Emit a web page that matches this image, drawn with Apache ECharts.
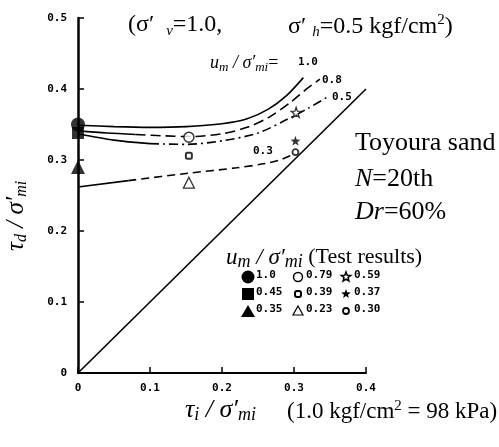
<!DOCTYPE html>
<html><head><meta charset="utf-8">
<script src="https://cdn.jsdelivr.net/npm/echarts@6/dist/echarts.min.js"></script>
<style>html,body{margin:0;padding:0;background:#fff}#c{width:499px;height:447px}</style>
</head><body><div id="c"></div>
<script>
// ---- data ----
const xRange = [0, 0.4];
const yRange = [0, 0.5];
const failureLine = [[0, 0], [0.4, 0.4]];
const curve10 = [[0,0.349],[0.05,0.347],[0.1,0.346],[0.15,0.347],[0.2,0.351],[0.235,0.358],[0.265,0.372],[0.29,0.391],[0.313,0.416]];
const curve08Solid = [[0,0.341],[0.04,0.338],[0.08,0.336]];
const curve08Dash = [[0.08,0.336],[0.12,0.334],[0.155,0.333],[0.2,0.337],[0.235,0.346],[0.265,0.36],[0.295,0.381],[0.315,0.398],[0.336,0.414]];
const curve05Solid = [[0,0.337],[0.05,0.328],[0.1,0.323]];
const curve05Dash = [[0.1,0.323],[0.15,0.322],[0.2,0.327],[0.25,0.338],[0.29,0.357],[0.32,0.373],[0.347,0.389]];
const curve03Solid = [[0,0.262],[0.07,0.271]];
const curve03Dash = [[0.07,0.271],[0.15,0.281],[0.22,0.289],[0.26,0.295],[0.28,0.3],[0.302,0.309]];
const curveLabels = ['1.0','0.8','0.5','0.3'];
const ptFilledCircle = [[0, 0.350]];   // 1.0
const ptFilledSquare = [[0, 0.338]];   // 0.45
const ptFilledTri    = [[0, 0.290]];   // 0.35
const ptOpenCircle   = [[0.154, 0.332]]; // 0.79
const ptSmallSquare  = [[0.154, 0.306]]; // 0.39
const ptOpenTri      = [[0.154, 0.268]]; // 0.23
const ptOpenStar     = [[0.303, 0.367]]; // 0.59
const ptFilledStar   = [[0.302, 0.327]]; // 0.37
const ptSmallCircle  = [[0.302, 0.311]]; // 0.30
const legendValues = [['1.0','0.79','0.59'],['0.45','0.39','0.37'],['0.35','0.23','0.30']];

// ---- chart ----
const serif = 'Liberation Serif';
const mono = 'DejaVu Sans Mono';
const starPath = 'path://M0,-10L2.35,-3.24L9.51,-3.09L3.8,1.24L5.88,8.09L0,4L-5.88,8.09L-3.8,1.24L-9.51,-3.09L-2.35,-3.24Z';
function line(data, type, width) {
  return {type:'line', data, symbol:'none', smooth:0.3, silent:true,
    lineStyle:{color:'#000', width: width||1.6, type: type||'solid'}, z:2};
}
function pts(data, symbol, size, filled, bw) {
  return {type:'scatter', data, symbol, symbolSize:size, silent:true, z:5,
    itemStyle: filled ? {color:'#000'} : {color:'#fff', borderColor:'#000', borderWidth: bw||1.5}};
}
function mkRich(itSize, subSize, nSize, shift) {
  return {
    it:{fontFamily:serif, fontStyle:'italic', fontSize:itSize},
    sub:{fontFamily:serif, fontStyle:'italic', fontSize:subSize, padding:[shift,0,0,0]},
    sup:{fontFamily:serif, fontSize:subSize, padding:[0,0,shift,0]},
    n:{fontFamily:serif, fontSize:nSize}
  };
}
function starPts(cx, cy, r) {
  const p = [];
  for (let i = 0; i < 10; i++) {
    const a = -Math.PI/2 + i*Math.PI/5;
    const rr = i%2 ? r*0.42 : r;
    p.push([cx + rr*Math.cos(a), cy + rr*Math.sin(a)]);
  }
  return p;
}
const lgX = [248, 298, 346];
const lgY = [277, 294, 311];
const graphics = [];
// title (two parts)
const tRich = mkRich(24, 15, 24, 12);
graphics.push({type:'text', left:128, top:13, style:{
  text:'{n|(σ′  }{sub|v}{n|=1.0,}', rich:tRich, fill:'#000'}});
graphics.push({type:'text', left:288, top:13, style:{
  text:'{n|σ′ }{sub|h}{n|=0.5 kgf/cm}{sup|2}{n|)}', rich:tRich, fill:'#000'}});
// u_m / sigma'_mi =
graphics.push({type:'text', left:210, top:54, style:{
  text:'{it|u}{sub|m}{it| / σ′}{sub|mi}{n|=}', rich:mkRich(18, 13, 18, 10), fill:'#000'}});
// curve labels
const clPos = [[298,57],[322,75],[332,92],[253,146]];
curveLabels.forEach((t,i)=>graphics.push({type:'text', left:clPos[i][0], top:clPos[i][1],
  style:{text:t, fontFamily:mono, fontWeight:'bold', fontSize:11, fill:'#000'}}));
// right text
const rRich = mkRich(26, 16, 26, 10);
graphics.push({type:'text', left:355, top:130, style:{text:'{n|Toyoura sand}', rich:rRich, fill:'#000'}});
graphics.push({type:'text', left:355, top:166, style:{text:'{it|N}{n|=20th}', rich:rRich, fill:'#000'}});
graphics.push({type:'text', left:355, top:199, style:{text:'{it|Dr}{n|=60%}', rich:rRich, fill:'#000'}});
// legend header
graphics.push({type:'text', left:226, top:246, style:{
  text:'{it|u}{sub|m}{it| / σ′}{sub|mi}{n| (Test results)}',
  rich:mkRich(23, 18, 22, 10), fill:'#000'}});
// legend symbols
graphics.push({type:'circle', shape:{cx:lgX[0], cy:lgY[0], r:6.5}, style:{fill:'#000'}});
graphics.push({type:'rect', shape:{x:lgX[0]-6, y:lgY[1]-6, width:12, height:12}, style:{fill:'#000'}});
graphics.push({type:'polygon', shape:{points:[[lgX[0],lgY[2]-6],[lgX[0]+7,lgY[2]+6],[lgX[0]-7,lgY[2]+6]]}, style:{fill:'#000'}});
graphics.push({type:'circle', shape:{cx:lgX[1], cy:lgY[0], r:4.5}, style:{fill:'#fff', stroke:'#000', lineWidth:1.5}});
graphics.push({type:'rect', shape:{x:lgX[1]-3, y:lgY[1]-3, width:6, height:6, r:2}, style:{fill:'#fff', stroke:'#000', lineWidth:2}});
graphics.push({type:'polygon', shape:{points:[[lgX[1],lgY[2]-5],[lgX[1]+5,lgY[2]+4],[lgX[1]-5,lgY[2]+4]]}, style:{fill:'#fff', stroke:'#000', lineWidth:1.2}});
graphics.push({type:'polygon', shape:{points:starPts(lgX[2], lgY[0], 5)}, style:{fill:'#fff', stroke:'#000', lineWidth:1.5}});
graphics.push({type:'polygon', shape:{points:starPts(lgX[2], lgY[1], 5)}, style:{fill:'#000'}});
graphics.push({type:'circle', shape:{cx:lgX[2], cy:lgY[2], r:3}, style:{fill:'#fff', stroke:'#000', lineWidth:1.8}});
legendValues.forEach((row,r)=>row.forEach((v,c)=>graphics.push({type:'text', left:lgX[c]+8, top:lgY[r]-7,
  style:{text:v, fontFamily:mono, fontWeight:'bold', fontSize:11, fill:'#000'}})));
// axis titles
graphics.push({type:'text', left:185, top:397, style:{
  text:'{it|τ}{sub|i}{it| / σ′}{sub|mi}', rich:mkRich(26, 18, 23, 11), fill:'#000'}});
graphics.push({type:'text', left:287, top:399, style:{
  text:'{n|(1.0 kgf/cm}{sup|2}{n| = 98 kPa)}', rich:mkRich(24, 15, 23, 11), fill:'#000'}});
graphics.push({type:'text', x:3, y:251, rotation:Math.PI/2, style:{
  text:'{it|τ}{sub|d}{it| / σ′}{sub|mi}', rich:mkRich(25, 16, 25, 11), fill:'#000'}});

const axisLabel = {fontFamily:mono, fontWeight:'bold', fontSize:11, color:'#000'};
const chart = echarts.init(document.getElementById('c'), null, {renderer:'canvas'});
chart.setOption({
  animation:false,
  backgroundColor:'#fff',
  grid:{left:78, right:133, top:18, bottom:74},
  xAxis:{type:'value', min:xRange[0], max:xRange[1], interval:0.1,
    axisLine:{onZero:false, lineStyle:{color:'#000', width:2}},
    axisTick:{inside:true, length:6, lineStyle:{color:'#000', width:1.5}},
    axisLabel:{...axisLabel, margin:10}, splitLine:{show:false}},
  yAxis:{type:'value', min:yRange[0], max:yRange[1], interval:0.1,
    axisLine:{show:true, onZero:false, lineStyle:{color:'#000', width:2.5}},
    axisTick:{show:true, inside:true, length:6, lineStyle:{color:'#000', width:1.5}},
    axisLabel:{...axisLabel, margin:11}, splitLine:{show:false}},
  series:[
    line(failureLine, 'solid', 1.6),
    line(curve10, 'solid'),
    line(curve08Solid, 'solid'), line(curve08Dash, [10,5]),
    line(curve05Solid, 'solid'), line(curve05Dash, [9,4,2,4]),
    line(curve03Solid, 'solid'), line(curve03Dash, [8,5]),
    pts(ptFilledCircle, 'circle', 14, true),
    pts(ptFilledSquare, 'rect', 12, true),
    pts(ptFilledTri, 'triangle', 14, true),
    pts(ptOpenCircle, 'circle', 10, false),
    pts(ptSmallSquare, 'roundRect', 6, false, 2),
    pts(ptOpenTri, 'triangle', 11, false, 1.3),
    pts(ptOpenStar, starPath, 10, false, 1.3),
    pts(ptFilledStar, starPath, 10, true),
    pts(ptSmallCircle, 'circle', 6, false, 1.8)
  ],
  graphic: graphics
});
</script></body></html>
